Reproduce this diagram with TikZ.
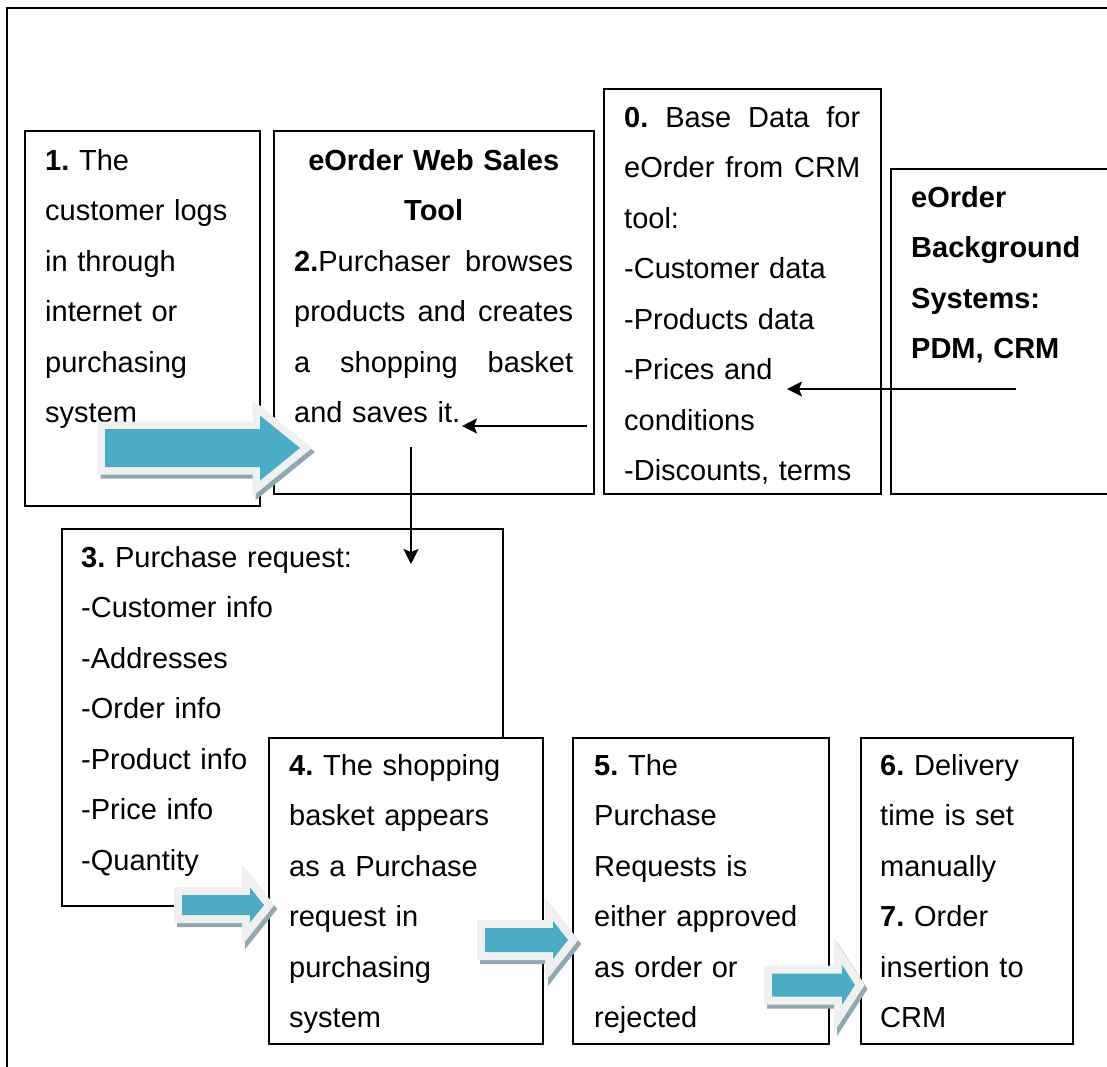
\documentclass[tikz,border=0pt]{standalone}
\usepackage{fontspec}
\setmainfont{Liberation Sans}
\usetikzlibrary{arrows.meta}
\definecolor{tealfill}{HTML}{4BACC6}
\definecolor{glowc}{HTML}{F0F0F0}
\definecolor{shadc}{HTML}{91A8B3}
\frenchspacing
\newcommand{\arrpath}[6]{(#1,{#4-#5}) -- (#2,{#4-#5}) -- (#2,{#4-#6}) -- (#3,#4) -- (#2,{#4+#6}) -- (#2,{#4+#5}) -- (#1,{#4+#5}) -- cycle}
\newcommand{\blockarr}[7]{%
  \draw[shift={(3,4)}, draw=shadc, fill=shadc, line width=#7pt, line join=miter] \arrpath{#1}{#2}{#3}{#4}{#5}{#6};
  \draw[draw=glowc, fill=glowc, line width=#7pt, line join=miter] \arrpath{#1}{#2}{#3}{#4}{#5}{#6};
  \fill[tealfill] \arrpath{#1}{#2}{#3}{#4}{#5}{#6};
}
\newcommand{\jline}[2]{\leavevmode\hbox to #1{#2}}
\begin{document}
\begin{tikzpicture}[x=1pt,y=-1pt,
  box/.style={draw, line width=1.7pt, fill=white, rectangle, inner sep=0pt, anchor=north west},
  txt/.style={inner sep=0pt, anchor=base west, align=left, font=\fontsize{29}{50.5}\selectfont},
  conn/.style={line width=1.8pt, -{Stealth[length=15pt,width=15pt,inset=3pt]}}]
\useasboundingbox (0,0) rectangle (1107,1066);
\clip (0,0) rectangle (1107,1066);
\fill[white] (0,0) rectangle (1107,1066);
% outer frame
\node[box, minimum width=1110pt, minimum height=1070pt] (frame) at (6,7) {};
% top row boxes
\node[box, minimum width=235pt, minimum height=375pt] (b1) at (24,130) {};
\node[box, minimum width=320pt, minimum height=363pt] (b2) at (273,130) {};
\node[box, minimum width=277pt, minimum height=405pt] (b0) at (603,88) {};
\node[box, minimum width=230pt, minimum height=325pt] (bg) at (890,168) {};
% second row
\node[box, minimum width=441pt, minimum height=377pt] (b3) at (61,528) {};
\node[box, minimum width=274pt, minimum height=306pt] (b4) at (268,737) {};
\node[box, minimum width=256pt, minimum height=306pt] (b5) at (572,737) {};
\node[box, minimum width=212pt, minimum height=306pt] (b6) at (860,737) {};
% texts
\node[txt, text width=210pt] (t1) at (45,170) {\textbf{1.} The\\customer logs\\in through\\internet or\\purchasing\\system};
\node[txt, text width=279pt] (t2) at (294,170) {\jline{279pt}{\hfil\textbf{eOrder Web Sales}\hfil}\\\jline{279pt}{\hfil\textbf{Tool}\hfil}\\\jline{279pt}{\textbf{2.}Purchaser\hfill browses}\\\jline{279pt}{products\hfill and\hfill creates}\\\jline{279pt}{a\hfill shopping\hfill basket}\\and saves it.};
\node[txt, text width=236pt] (t0) at (624,127) {\jline{236pt}{\textbf{0.}\hfill Base\hfill Data\hfill for}\\\jline{236pt}{eOrder\hfill from\hfill CRM}\\tool:\\-Customer data\\-Products data\\-Prices and\\conditions\\-Discounts, terms};
\node[txt, text width=195pt] (tg) at (911,207) {\textbf{eOrder}\\\textbf{Background}\\\textbf{Systems:}\\\textbf{PDM, CRM}};
\node[txt, text width=400pt] (t3) at (81,567) {\textbf{3.} Purchase request:\\-Customer info\\-Addresses\\-Order info\\-Product info\\-Price info\\-Quantity};
\node[txt, text width=245pt] (t4) at (289,775) {\textbf{4.} The shopping\\basket appears\\as a Purchase\\request in\\purchasing\\system};
\node[txt, text width=230pt] (t5) at (594,775) {\textbf{5.} The\\Purchase\\Requests is\\either approved\\as order or\\rejected};
\node[txt, text width=190pt] (t6) at (880,775) {\textbf{6.} Delivery\\time is set\\manually\\\textbf{7.} Order\\insertion to\\CRM};
% line connectors
\coordinate (c0s) at (587,426);
\coordinate (c0e) at (462,426);
\coordinate (cgs) at (1016,389);
\coordinate (cge) at (787,389);
\coordinate (c2s) at (411,447);
\coordinate (c2e) at (411,564);
\draw[conn] (c0s) -- (c0e);
\draw[conn] (cgs) -- (cge);
\draw[conn] (c2s) -- (c2e);
% block arrows
\blockarr{105}{260}{300}{448}{19}{32.5}{15}
\blockarr{182}{250}{264}{905}{10}{17.5}{16}
\blockarr{485}{553}{568}{940}{12}{19}{16}
\blockarr{772}{842}{855}{985}{11.5}{20}{16}
\end{tikzpicture}
\end{document}
